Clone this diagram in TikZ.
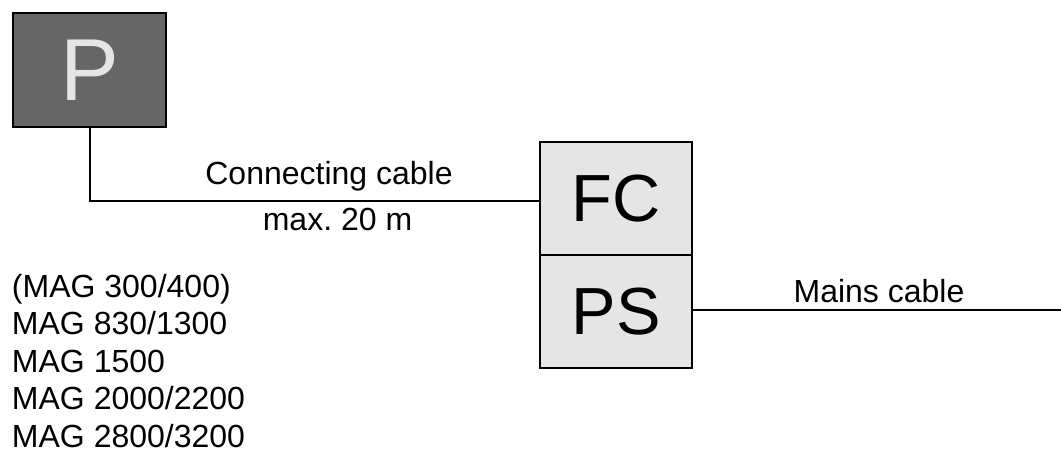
\documentclass[tikz,border=0pt]{standalone}
\usepackage{fontspec}
\setmainfont{Liberation Sans}
\usetikzlibrary{positioning}
\frenchspacing

\begin{document}
\begin{tikzpicture}[x=0.75pt, y=-0.75pt, line width=1.5pt,
    every node/.style={font=\fontsize{24}{28.1}\selectfont},
    unitbox/.style={draw, line width=2pt, outer sep=0pt, inner sep=0pt,
      fill=black!10, minimum width=114pt, minimum height=84.75pt,
      font=\fontsize{50}{50}\selectfont}]
    \useasboundingbox (0,0) rectangle (1061,453);

    \node[unitbox, fill=black!60, text=black!10, minimum width=114.75pt, minimum height=85.5pt, font=\fontsize{66}{66}\selectfont] (probe) at (89.5,70) {P};
    \node[unitbox] (fc) at (616,198.5) {FC};
    \node[unitbox, below=0pt of fc] (ps) {PS};
    \coordinate (mainsend) at (1061,310);

    \draw (probe.south) |- ([yshift=-1.9pt]fc.west);
    \draw (mainsend -| ps.east) -- (mainsend);

    \node[anchor=base] (cablelabel) at (329,185) {Connecting cable};
    \node[anchor=base] (lengthlabel) at (337.5,230) {max. 20 m};
    \node[anchor=base] (mainslabel) at (879,302) {Mains cable};
    \node[anchor=base west, align=left, inner sep=0pt] (models) at (11,447)
      {(MAG 300/400)\\MAG 830/1300\\MAG 1500\\MAG 2000/2200\\MAG 2800/3200};
  \end{tikzpicture}
\end{document}
